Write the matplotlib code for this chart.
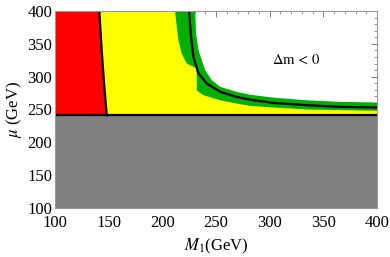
import matplotlib
matplotlib.use("Agg")
import matplotlib.pyplot as plt
import numpy as np
from matplotlib.ticker import MultipleLocator

# --- data ---
mu_floor = 241.0  # horizontal boundary (gray region below)

# red/yellow boundary (black line)
red_mu = [400, 340, 290, 241]
red_m1 = [141.3, 143.5, 145.7, 148.2]

# Delta m = 0 curve (black line)
dm_m1 = [224.9, 226.4, 228.9, 233.6, 241.4, 253.8, 269.3, 281.7, 303.0, 334.6, 365.6, 400.0]
dm_mu = [400.0, 366.0, 330.0, 305.0, 289.6, 277.0, 269.0, 265.0, 260.0, 256.5, 254.0, 253.0]

# outer edge of green band (green / white)
outer_m1 = [230.5, 231.4, 233.6, 236.7, 239.8, 246.0, 253.8, 269.3, 281.7, 303.4, 334.6, 365.6, 400.0]
outer_mu = [400.0, 366.0, 340.5, 325.0, 310.0, 294.7, 284.5, 276.8, 272.5, 268.0, 264.0, 261.6, 260.6]

# inner edge of green band (green / yellow)
inner_m1 = [211.8, 213.4, 214.9, 218.0, 222.7, 228.9, 232.0, 232.0, 238.2, 253.8, 269.3, 281.7, 303.4, 334.6, 365.6, 400.0]
inner_mu = [400.0, 376.0, 355.7, 335.4, 320.0, 315.0, 312.5, 279.0, 271.8, 264.0, 259.0, 255.5, 253.0, 250.0, 249.0, 248.0]

x_ticks = [100, 150, 200, 250, 300, 350, 400]
y_ticks = [100, 150, 200, 250, 300, 350, 400]

plt.rcParams['mathtext.fontset'] = 'stix'
plt.rcParams['font.family'] = ['Liberation Serif', 'DejaVu Serif']

fig = plt.figure(figsize=(3.9, 2.57), dpi=100)
ax = fig.add_axes([0.141, 0.191, 0.826, 0.766])
ax.set_xlim(100, 400)
ax.set_ylim(100, 400)

green = '#00b000'
gx = [100] + outer_m1 + [400, 100]
gy = [400] + outer_mu + [mu_floor, mu_floor]
ax.fill(gx, gy, color=green, lw=0, zorder=1)
yx = [100] + inner_m1 + [400, 100]
yy = [400] + inner_mu + [mu_floor, mu_floor]
ax.fill(yx, yy, color='#ffff00', lw=0, zorder=2)
rx = [100] + red_m1 + [100]
ry = [400] + red_mu + [mu_floor]
ax.fill(rx, ry, color='#ff0000', lw=0, zorder=3)
ax.fill([100, 400, 400, 100], [100, 100, mu_floor, mu_floor], color='#808080', lw=0, zorder=4)

ax.plot(red_m1, red_mu, color='black', lw=1.6, zorder=5)
ax.plot(dm_m1, dm_mu, color='black', lw=1.6, zorder=5)
ax.plot([100, 400], [mu_floor, mu_floor], color='black', lw=1.6, zorder=5)

ax.text(325, 326, r'$\Delta\mathrm{m}\,<\,0$', fontsize=10.5, ha='center', va='center', zorder=6)

ax.set_xticks(x_ticks)
ax.set_yticks(y_ticks)
ax.xaxis.set_minor_locator(MultipleLocator(10))
ax.yaxis.set_minor_locator(MultipleLocator(10))
ax.tick_params(which='both', direction='in', top=True, right=True, color='#666666',
               labelsize=12)
ax.tick_params(axis='x', which='major', pad=5)
ax.tick_params(axis='y', which='major', pad=2)
ax.tick_params(which='major', length=4, width=0.6)
ax.tick_params(which='minor', length=2, width=0.5)
for s in ax.spines.values():
    s.set_color('#999999')
    s.set_linewidth(0.8)
    s.set_zorder(7)

ax.set_xlabel(r'$M_1$(GeV)', fontsize=12, labelpad=4)
ax.set_ylabel(r'$\mu$ (GeV)', fontsize=12, labelpad=2)

fig.savefig('out.png', dpi=100)
